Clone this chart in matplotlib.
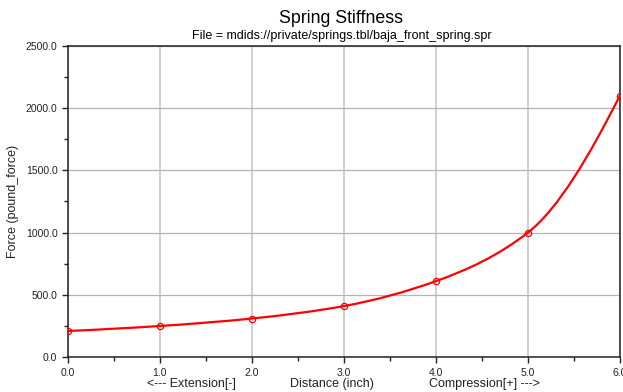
import numpy as np
import matplotlib.pyplot as plt
from matplotlib.path import Path
from matplotlib.patches import PathPatch
from matplotlib.ticker import MultipleLocator, FormatStrFormatter

plt.rcParams["font.family"] = ["Liberation Sans", "DejaVu Sans"]

# spring table
distance = [0.0, 1.0, 2.0, 3.0, 4.0, 5.0, 6.0]
force = [210.0, 250.0, 310.0, 410.0, 610.0, 1000.0, 2100.0]

fig = plt.figure(figsize=(6.23, 3.92), dpi=100)
ax = fig.add_axes([0.109, 0.089, 0.886, 0.794])

# monotone (pchip) slopes at the table points, curve drawn as bezier segments
x = np.array(distance)
y = np.array(force)
n = len(x)
h = np.diff(x)
d = np.diff(y) / h
slope = np.zeros(n)
for i in range(1, n - 1):
    if d[i - 1] * d[i] > 0:
        w1 = 2 * h[i] + h[i - 1]
        w2 = h[i] + 2 * h[i - 1]
        slope[i] = (w1 + w2) / (w1 / d[i - 1] + w2 / d[i])
slope[0] = ((2 * h[0] + h[1]) * d[0] - h[0] * d[1]) / (h[0] + h[1])
slope[-1] = ((2 * h[-1] + h[-2]) * d[-1] - h[-1] * d[-2]) / (h[-1] + h[-2])

verts = [(x[0], y[0])]
codes = [Path.MOVETO]
for i in range(n - 1):
    t = h[i] / 3
    verts += [(x[i] + t, y[i] + slope[i] * t),
              (x[i + 1] - t, y[i + 1] - slope[i + 1] * t),
              (x[i + 1], y[i + 1])]
    codes += [Path.CURVE4] * 3
ax.add_patch(PathPatch(Path(verts, codes), facecolor="none", edgecolor="red", lw=1.6, zorder=3))
ax.plot(distance, force, linestyle="none", marker="o", markersize=4.5,
        markerfacecolor="none", markeredgecolor="red", markeredgewidth=0.9, zorder=4)

ax.set_xlim(0, 6)
ax.set_ylim(0, 2500)
ax.xaxis.set_major_locator(MultipleLocator(1))
ax.xaxis.set_minor_locator(MultipleLocator(0.5))
ax.yaxis.set_major_locator(MultipleLocator(500))
ax.yaxis.set_minor_locator(MultipleLocator(250))
ax.xaxis.set_major_formatter(FormatStrFormatter("%.1f"))
ax.yaxis.set_major_formatter(FormatStrFormatter("%.1f"))
ax.tick_params(which="major", length=4, width=1, labelsize=7.5, colors="#222222")
ax.tick_params(which="minor", length=3, width=1, colors="#222222")
ax.grid(True, axis="x", color="#cccccc", lw=1.3)
ax.grid(True, axis="y", color="#b5b5b5", lw=0.9)
ax.set_axisbelow(True)
for s in ax.spines.values():
    s.set_color("#222222")
    s.set_linewidth(1.1)

fig.text(0.548, 0.954, "Spring Stiffness", ha="center", va="center", fontsize=12.8)
fig.text(0.548, 0.908, "File = mdids://private/springs.tbl/baja_front_spring.spr",
         ha="center", va="center", fontsize=9)
ax.set_ylabel("Force (pound_force)", fontsize=9, color="#222222", labelpad=5)
fig.text(0.307, 0.020, "<--- Extension[-]", ha="center", va="center", fontsize=9, color="#222222")
fig.text(0.533, 0.020, "Distance (inch)", ha="center", va="center", fontsize=9, color="#222222")
fig.text(0.778, 0.020, "Compression[+] --->", ha="center", va="center", fontsize=9, color="#222222")

fig.savefig("out.png", dpi=100)
